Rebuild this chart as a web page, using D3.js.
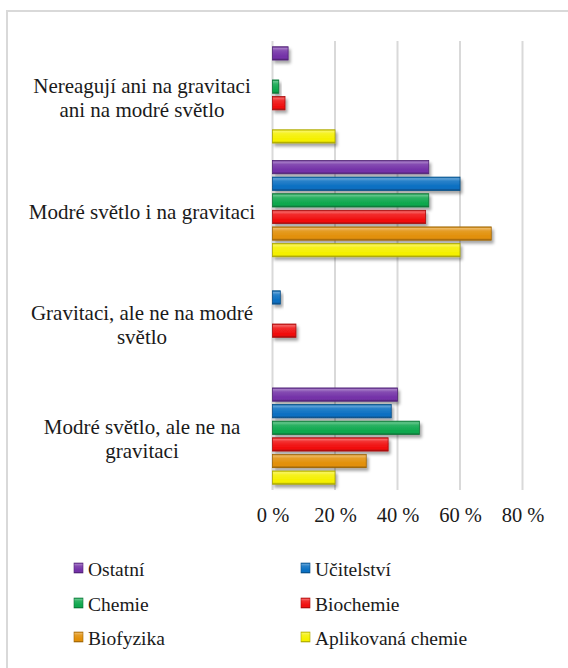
<!DOCTYPE html>
<html><head><meta charset="utf-8">
<script src="https://cdn.jsdelivr.net/npm/d3@7"></script>
<style>html,body{margin:0;padding:0;background:#fff;}svg{display:block;}</style>
</head><body>
<svg id="chart" width="568" height="668"></svg>
<script>
const categories = [
  "Nereagují ani na gravitaci|ani na modré světlo",
  "Modré světlo i na gravitaci",
  "Gravitaci, ale ne na modré|světlo",
  "Modré světlo, ale ne na|gravitaci"
];
const seriesNames = ["Ostatní","Učitelství","Chemie","Biochemie","Biofyzika","Aplikovaná chemie"];
const seriesColors = ["#7432a8","#0b70c2","#0fa84e","#f01010","#e2900a","#f5f000"];
const ostatni       = [5, 50, 0, 40];
const ucitelstvi    = [0, 60, 2.5, 38];
const chemie        = [2, 50, 0, 47];
const biochemie     = [4, 49, 7.5, 37];
const biofyzika     = [0, 70, 0, 30];
const aplikovana    = [20, 60, 0, 20];
const seriesValues = [ostatni, ucitelstvi, chemie, biochemie, biofyzika, aplikovana];
const ticks = [0, 20, 40, 60, 80];

const W = 568, H = 668;
const FONT = "Liberation Serif";
const svg = d3.select("#chart");
const defs = svg.append("defs");

function lighten(c, k){ return d3.interpolateRgb(c, "#ffffff")(k); }
function darken(c, k){ return d3.interpolateRgb(c, "#000000")(k); }

seriesColors.forEach((c, i) => {
  const g = defs.append("linearGradient").attr("id", "g" + i)
    .attr("x1", 0).attr("y1", 0).attr("x2", 0).attr("y2", 1);
  [[0, darken(c, .15)], [0.12, lighten(c, .35)], [0.3, lighten(c, .12)], [0.7, c], [0.85, c], [1, darken(c, .35)]]
    .forEach(([o, col]) => g.append("stop").attr("offset", o).attr("stop-color", col));
});
const f = defs.append("filter").attr("id", "sh").attr("x", "-20%").attr("y", "-40%").attr("width", "160%").attr("height", "220%");
f.append("feDropShadow").attr("dx", 2).attr("dy", 3).attr("stdDeviation", 1.8).attr("flood-color", "#000").attr("flood-opacity", 0.35);

// outer border
svg.append("rect").attr("x", 7).attr("y", 11).attr("width", W + 20).attr("height", H + 20)
  .attr("fill", "none").attr("stroke", "#d9d9d9").attr("stroke-width", 2);

const x = d3.scaleLinear().domain([0, 80]).range([272.5, 522.5]);
const y = d3.scaleBand().domain(categories).range([41, 490]).paddingInner(0.124).paddingOuter(0.036);
const yi = d3.scaleBand().domain(seriesNames).range([0, y.bandwidth()]).paddingInner(0.2).paddingOuter(0.1);

// gridlines
svg.append("g").selectAll("line").data(ticks).join("line")
  .attr("x1", d => x(d)).attr("x2", d => x(d)).attr("y1", 41).attr("y2", 490)
  .attr("stroke", "#d9d9d9").attr("stroke-width", 2);

// x axis labels
const xAxis = d3.axisBottom(x).tickValues(ticks).tickSize(0).tickPadding(0).tickFormat(d => d + " %");
const xg = svg.append("g").attr("transform", "translate(0,507)").call(xAxis)
  .attr("font-family", FONT).attr("font-size", 20.5);
xg.select(".domain").remove();
xg.selectAll("text").attr("font-family", FONT).attr("fill", "#1a1a1a");

// bars
const groups = svg.append("g").selectAll("g").data(categories).join("g")
  .attr("transform", d => `translate(0,${y(d)})`);
groups.each(function(cat, ci){
  const g = d3.select(this);
  seriesNames.forEach((s, si) => {
    const v = seriesValues[si][ci];
    if (!v) return;
    g.append("rect").attr("x", x(0)).attr("y", yi(s))
      .attr("width", x(v) - x(0)).attr("height", yi.bandwidth())
      .attr("fill", `url(#g${si})`).attr("stroke", darken(seriesColors[si], .3)).attr("stroke-width", 0.8)
      .attr("filter", "url(#sh)");
  });
});

// category labels
const yAxis = d3.axisLeft(y).tickSize(0).tickPadding(0);
const yg = svg.append("g").call(yAxis).attr("font-family", FONT).attr("font-size", 21);
yg.select(".domain").remove();
yg.selectAll(".tick text").each(function(d){
  const t = d3.select(this);
  const lines = d.split("|");
  t.text(null).attr("x", 142).attr("text-anchor", "middle").attr("dy", null)
    .attr("font-family", FONT).attr("fill", "#1a1a1a");
  const lh = 24;
  lines.forEach((ln, i) => {
    t.append("tspan").attr("x", 142).attr("y", (i - (lines.length - 1) / 2) * lh + 10).text(ln);
  });
});

// legend
const legX = [74, 301], legY = [568, 603, 637];
const leg = svg.append("g").selectAll("g").data(seriesNames).join("g")
  .attr("transform", (d, i) => `translate(${legX[i % 2]},${legY[Math.floor(i / 2)]})`);
leg.append("rect").attr("x", 0).attr("y", -5).attr("width", 9).attr("height", 10)
  .attr("fill", (d, i) => `url(#g${i})`).attr("stroke", (d, i) => darken(seriesColors[i], .3)).attr("stroke-width", 0.6);
leg.append("text").attr("x", 14).attr("y", 8).text(d => d)
  .attr("font-family", FONT).attr("font-size", 19.5).attr("fill", "#1a1a1a");
</script>
</body></html>
